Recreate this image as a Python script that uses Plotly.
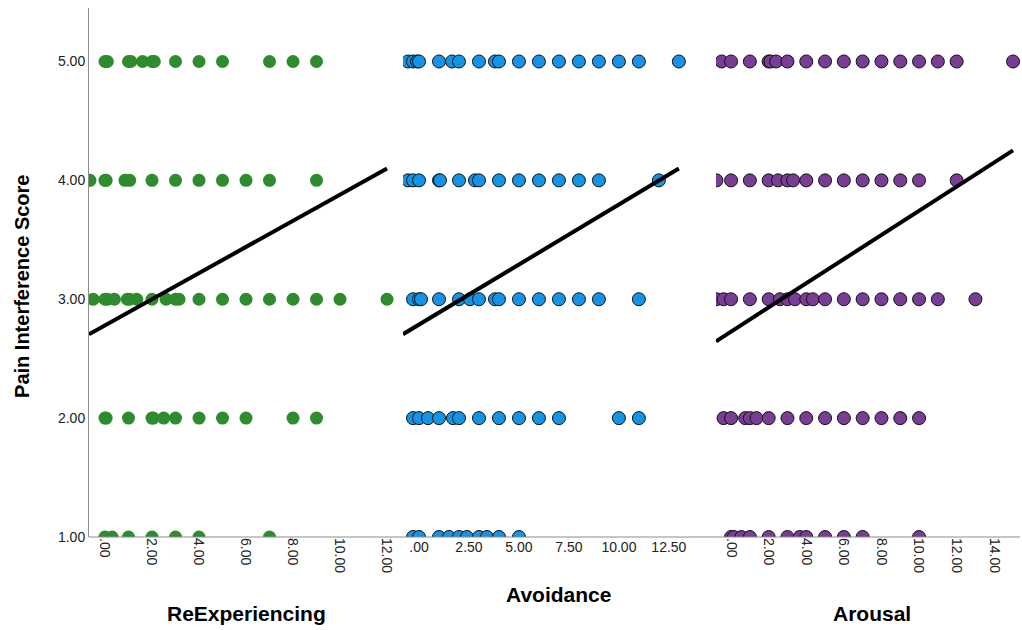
import plotly.graph_objects as go

# Pain interference score (y) against each PTSD symptom cluster score (x)
reexp_y5 = [0, 0.1, 1, 1.1, 1.6, 2, 2.1, 3, 4, 5, 7, 8, 9]
reexp_y4 = [-0.64, 0, 0.05, 0.85, 1.05, 2, 3, 4, 5, 6, 7, 9]
reexp_y3 = [-0.5, 0, 0.1, 0.4, 0.95, 1.05, 1.35, 2, 2.6, 3, 3.15, 4, 5, 6, 7, 8, 9, 10, 12]
reexp_y2 = [0, 0.05, 1, 2, 2.05, 2.5, 3, 4, 5, 6, 8, 9]
reexp_y1 = [0, 0.3, 1, 2, 3, 4, 7]

avoid_y5 = [-0.55, -0.3, -0.1, 0, 1, 1.65, 2, 3, 3.8, 4, 5, 6, 7, 8, 9, 10, 11, 13]
avoid_y4 = [-0.55, -0.3, 0, 1, 1.05, 2, 2.8, 3, 4, 5, 6, 7, 8, 9, 12]
avoid_y3 = [-0.3, 0, 0.1, 1, 2, 2.55, 3, 3.8, 4, 5, 6, 7, 8, 9, 11]
avoid_y2 = [-0.3, 0, 0.45, 1, 1.7, 2, 3, 4, 5, 6, 7, 10, 11]
avoid_y1 = [-0.3, 0, 1, 1.5, 2, 2.4, 3, 3.4, 4, 5]

arous_y5 = [-0.5, 0, 1, 2, 2.1, 2.4, 3, 4, 5, 6, 7, 8, 9, 10, 11, 12, 15]
arous_y4 = [-0.78, 0, 1, 2, 2.5, 3, 3.3, 4, 5, 6, 7, 8, 9, 10, 12]
arous_y3 = [-0.78, -0.4, 0, 1, 2, 2.6, 3, 3.4, 4, 4.35, 5, 6, 7, 8, 9, 10, 11, 13]
arous_y2 = [-0.4, 0, 0.75, 1, 1.35, 2, 3, 4, 5, 6, 7, 8, 9, 10]
arous_y1 = [0, 0.15, 0.55, 1, 2, 3, 3.65, 4, 5, 6, 7, 10]

score_levels = [5, 4, 3, 2, 1]
panel_names = ["ReExperiencing", "Avoidance", "Arousal"]

# linear fit per panel: intercept, slope, and x where the fit line starts
fit_intercept = [2.78, 2.787, 2.728]
fit_slope = [0.110, 0.101, 0.1016]
fit_x_start = [-0.68, -0.8, -0.8]

y_ticks = [1, 2, 3, 4, 5]
y_tick_text = ["1.00", "2.00", "3.00", "4.00", "5.00"]
x1_ticks = [0, 2, 4, 6, 8, 10, 12]
x1_tick_text = [".00", "2.00", "4.00", "6.00", "8.00", "10.00", "12.00"]
x2_ticks = [0, 2.5, 5, 7.5, 10, 12.5]
x2_tick_text = [".00", "2.50", "5.00", "7.50", "10.00", "12.50"]
x3_ticks = [0, 2, 4, 6, 8, 10, 12, 14]
x3_tick_text = [".00", "2.00", "4.00", "6.00", "8.00", "10.00", "12.00", "14.00"]

panels = [
    ([reexp_y5, reexp_y4, reexp_y3, reexp_y2, reexp_y1], "x", "#2e8b2e", 0),
    ([avoid_y5, avoid_y4, avoid_y3, avoid_y2, avoid_y1], "x2", "#1593e6", 1),
    ([arous_y5, arous_y4, arous_y3, arous_y2, arous_y1], "x3", "#7a3d96", 1),
]

FONT = "Liberation Sans, Arial, sans-serif"
fig = go.Figure()

for groups, xa, color, outline in panels:
    xs, ys = [], []
    for level, vals in zip(score_levels, groups):
        xs += vals
        ys += [level] * len(vals)
    fig.add_trace(go.Scatter(
        x=xs, y=ys, mode="markers", xaxis=xa, yaxis="y",
        marker=dict(size=13, color=color,
                    line=dict(color="#111111", width=outline)),
        showlegend=False, hoverinfo="x+y",
    ))

for i, (groups, xa, color, outline) in enumerate(panels):
    x_end = max(max(g) for g in groups)
    x0 = fit_x_start[i]
    fig.add_trace(go.Scatter(
        x=[x0, x_end],
        y=[fit_intercept[i] + fit_slope[i] * x0,
           fit_intercept[i] + fit_slope[i] * x_end],
        mode="lines", xaxis=xa, yaxis="y",
        line=dict(color="black", width=4),
        showlegend=False, hoverinfo="skip",
    ))

tick_font = dict(family=FONT, size=14, color="#222222")
x_common = dict(anchor="y", showgrid=False, zeroline=False, showline=False,
                ticks="", tickmode="array", tickfont=tick_font, fixedrange=True)

fig.update_layout(
    width=1022, height=630,
    margin=dict(l=89, r=2, t=8, b=93),
    paper_bgcolor="white", plot_bgcolor="white",
    font=dict(family=FONT, color="black"),
    xaxis=dict(domain=[0, 0.333], range=[-0.68, 12.51],
               tickvals=x1_ticks, ticktext=x1_tick_text, tickangle=90, **x_common),
    xaxis2=dict(domain=[0.3373, 0.669], range=[-0.8, 14.65],
                tickvals=x2_ticks, ticktext=x2_tick_text, tickangle=0, **x_common),
    xaxis3=dict(domain=[0.6735, 1.0], range=[-0.8, 15.37],
                tickvals=x3_ticks, ticktext=x3_tick_text, tickangle=90, **x_common),
    yaxis=dict(range=[1, 5.45], tickmode="array", tickvals=y_ticks,
               ticktext=y_tick_text, showgrid=False, zeroline=False,
               showline=True, linecolor="#8c8c8c", linewidth=1,
               ticks="", tickfont=tick_font, anchor="x", fixedrange=True),
    shapes=[dict(type="line", xref="paper", yref="paper", x0=0, x1=1,
                 y0=0, y1=0, line=dict(color="#8c8c8c", width=1))],
)

fig.add_annotation(text="<b>Pain Interference Score</b>", xref="paper", yref="paper",
                   x=-0.072, y=0.4745, textangle=-90, showarrow=False,
                   xanchor="center", yanchor="middle",
                   font=dict(family=FONT, size=20, color="black"))

title_pos = [(0.169, -0.1437), (0.5048, -0.1096), (0.841, -0.1437)]
for name, (tx, ty) in zip(panel_names, title_pos):
    fig.add_annotation(text="<b>%s</b>" % name, xref="paper", yref="paper",
                       x=tx, y=ty, showarrow=False, xanchor="center",
                       yanchor="middle",
                       font=dict(family=FONT, size=21, color="black"))

fig.write_html("out.html")
